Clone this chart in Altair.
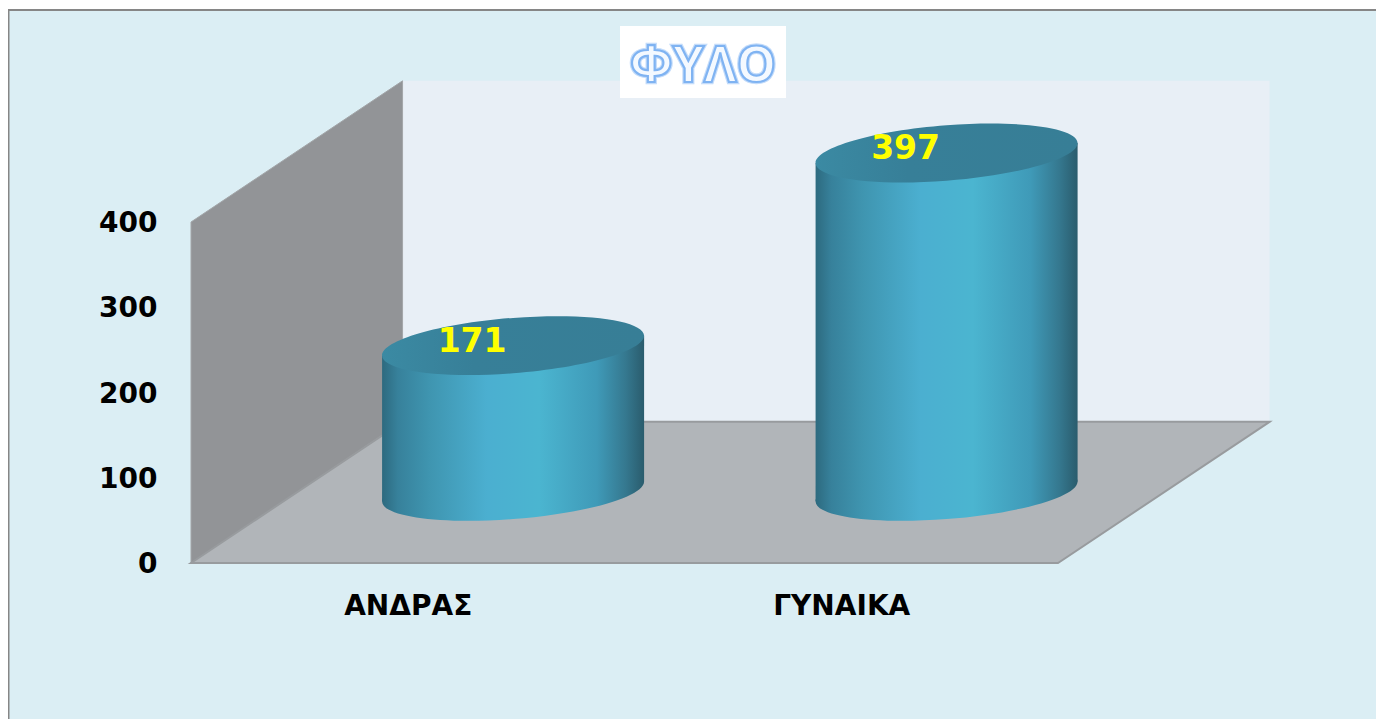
import altair as alt
import pandas as pd

# chart values
categories = ["ΑΝΔΡΑΣ", "ΓΥΝΑΙΚΑ"]
values = [171, 397]
y_ticks = [0, 100, 200, 300, 400]
chart_title = "ΦΥΛΟ"

# 3-D box, in axis units
depth_x = 0.488
depth_y = 165.6
top = 400
span = 2
centres = [0.5, 1.5]
shift_x = 0.243
base = 84
radius = 0.3022
tilt = 11.7
cap_size = 262 ** 2

FONT = "DejaVu Sans"


def cap_path(b=0.2117, s=0.0763, k=0.5523):
    def p(x, y):
        return f"{x:.4f},{y - s * x:.4f}"
    return (
        f"M{p(1, 0)}"
        f"C{p(1, k * b)} {p(k, b)} {p(0, b)}"
        f"C{p(-k, b)} {p(-1, k * b)} {p(-1, 0)}"
        f"C{p(-1, -k * b)} {p(-k, -b)} {p(0, -b)}"
        f"C{p(k, -b)} {p(1, -k * b)} {p(1, 0)}Z"
    )


CAP = cap_path()

body_gradient = alt.LinearGradient(
    gradient="linear", x1=0, x2=1, y1=0, y2=0,
    stops=[
        alt.GradientStop(offset=0.0, color="#2d6a7f"),
        alt.GradientStop(offset=0.06, color="#37819b"),
        alt.GradientStop(offset=0.18, color="#3f95b0"),
        alt.GradientStop(offset=0.40, color="#4bafd0"),
        alt.GradientStop(offset=0.60, color="#4bb5d0"),
        alt.GradientStop(offset=0.82, color="#3f9ab8"),
        alt.GradientStop(offset=0.93, color="#35788f"),
        alt.GradientStop(offset=1.0, color="#2a5c6d"),
    ],
)
cap_gradient = alt.LinearGradient(
    gradient="linear", x1=0, x2=1, y1=0, y2=0,
    stops=[
        alt.GradientStop(offset=0.0, color="#3b8aa3"),
        alt.GradientStop(offset=0.35, color="#377f98"),
        alt.GradientStop(offset=1.0, color="#377e96"),
    ],
)

xs = alt.Scale(domain=[0, span], nice=False, zero=False)
ys = alt.Scale(domain=[0, top], nice=False, zero=False)

label_expr = "datum.value < 1 ? '%s' : '%s'" % tuple(categories)

x_axis = alt.Axis(
    title=None, values=centres, labelExpr=label_expr, domain=False, ticks=False,
    grid=False, labelFont=FONT, labelFontWeight="bold", labelFontSize=28,
    labelColor="black", labelPadding=29, labelAngle=0, labelFlush=False,
)
y_axis = alt.Axis(
    title=None, values=y_ticks, domain=False, ticks=False, grid=False,
    labelFont=FONT, labelFontWeight="bold", labelFontSize=28, labelColor="black",
    labelPadding=34, labelOffset=1.5, format="d",
)


def X(field="x"):
    return alt.X(f"{field}:Q", scale=xs, axis=x_axis)


def Y(field="y"):
    return alt.Y(f"{field}:Q", scale=ys, axis=y_axis, stack=False)


back = pd.DataFrame([{"x": depth_x, "x2": span + depth_x, "y": depth_y, "y2": top + depth_y}])
back_wall = alt.Chart(back).mark_rect(color="#e8eff6").encode(
    x=X(), x2="x2:Q", y=Y(), y2="y2:Q"
)

side = pd.DataFrame([
    {"x": 0, "y": top, "y2": 0},
    {"x": depth_x, "y": top + depth_y, "y2": depth_y},
])
side_wall = alt.Chart(side).mark_area(
    color="#929497", stroke="#a3a6a9", strokeWidth=1, opacity=1
).encode(x=X(), y=Y(), y2="y2:Q")

floor = pd.DataFrame([
    {"y": 0, "x": 0, "x2": span},
    {"y": depth_y, "x": depth_x, "x2": span + depth_x},
])
floor_area = alt.Chart(floor).mark_area(
    orient="horizontal", color="#b1b5b9", stroke="#989b9e", strokeWidth=2, opacity=1
).encode(
    y=alt.Y("y:Q", scale=ys, axis=y_axis),
    x=alt.X("x:Q", scale=xs, axis=x_axis, stack=False),
    x2="x2:Q",
)

cyl = pd.DataFrame({
    "cat": categories,
    "value": values,
    "cx": [c + shift_x for c in centres],
})
cyl["top_y"] = cyl["value"] + base
cyl["base_y"] = base

rows = []
for cat, v, c in zip(categories, values, cyl["cx"]):
    rows.append({"cat": cat, "x": c - radius, "y": v + base - tilt, "y2": base - tilt})
    rows.append({"cat": cat, "x": c + radius, "y": v + base + tilt, "y2": base + tilt})
body = pd.DataFrame(rows)

bottom_caps = alt.Chart(cyl).mark_point(
    shape=CAP, size=cap_size, filled=True, fill=body_gradient, opacity=1, strokeWidth=0
).encode(x=X("cx"), y=Y("base_y"))

body_areas = alt.Chart(body).mark_area(fill=body_gradient, opacity=1, strokeWidth=0).encode(
    x=X(), y=Y(), y2="y2:Q", detail="cat:N"
)

top_caps = alt.Chart(cyl).mark_point(
    shape=CAP, size=cap_size, filled=True, fill=cap_gradient, opacity=1, strokeWidth=0
).encode(x=X("cx"), y=Y("top_y"))

value_labels = alt.Chart(cyl).mark_text(
    font=FONT, fontWeight="bold", fontSize=33, color="#ffff00", dx=-41, dy=-4,
    baseline="middle", align="center",
).encode(x=X("cx"), y=Y("top_y"), text="value:Q")

one = pd.DataFrame({"t": [chart_title]})
white_edge = alt.Chart(one).mark_rule(color="white", size=1).encode(
    x=alt.value(-183), x2=alt.value(1185), y=alt.value(-213.5)
)
top_edge = alt.Chart(one).mark_rule(color="#868686", size=2).encode(
    x=alt.value(-183), x2=alt.value(1185), y=alt.value(-212)
)
left_edge = alt.Chart(one).mark_rule(color="#868686", size=2).encode(
    x=alt.value(-182.5), y=alt.value(-213), y2=alt.value(497)
)
title_box = alt.Chart(one).mark_rect(color="white").encode(
    x=alt.value(429), x2=alt.value(595), y=alt.value(-196), y2=alt.value(-124)
)
title_halo = alt.Chart(one).mark_text(
    font="Open Sans", fontWeight="bold", fontSize=50, fill="white", stroke="#c4dcfa",
    strokeWidth=4.5, align="center", baseline="middle",
).encode(x=alt.value(512), y=alt.value(-155), text="t:N")
title_text = alt.Chart(one).mark_text(
    font="Open Sans", fontWeight="bold", fontSize=50, fill="#f4f9ff", stroke="#7fb3f2",
    strokeWidth=2.2, align="center", baseline="middle",
).encode(x=alt.value(512), y=alt.value(-155), text="t:N")

chart = (
    alt.layer(
        back_wall, side_wall, floor_area, bottom_caps, body_areas, top_caps,
        value_labels, white_edge, top_edge, left_edge, title_box, title_halo, title_text,
    )
    .properties(
        width=867, height=341,
        padding={"left": 183, "top": 214, "right": 318, "bottom": 156},
        autosize=alt.AutoSizeParams(type="none"),
        background="#dbeef4",
    )
    .configure_view(strokeWidth=0)
)

chart.save("out.html", embed_options={"renderer": "svg", "actions": False})
